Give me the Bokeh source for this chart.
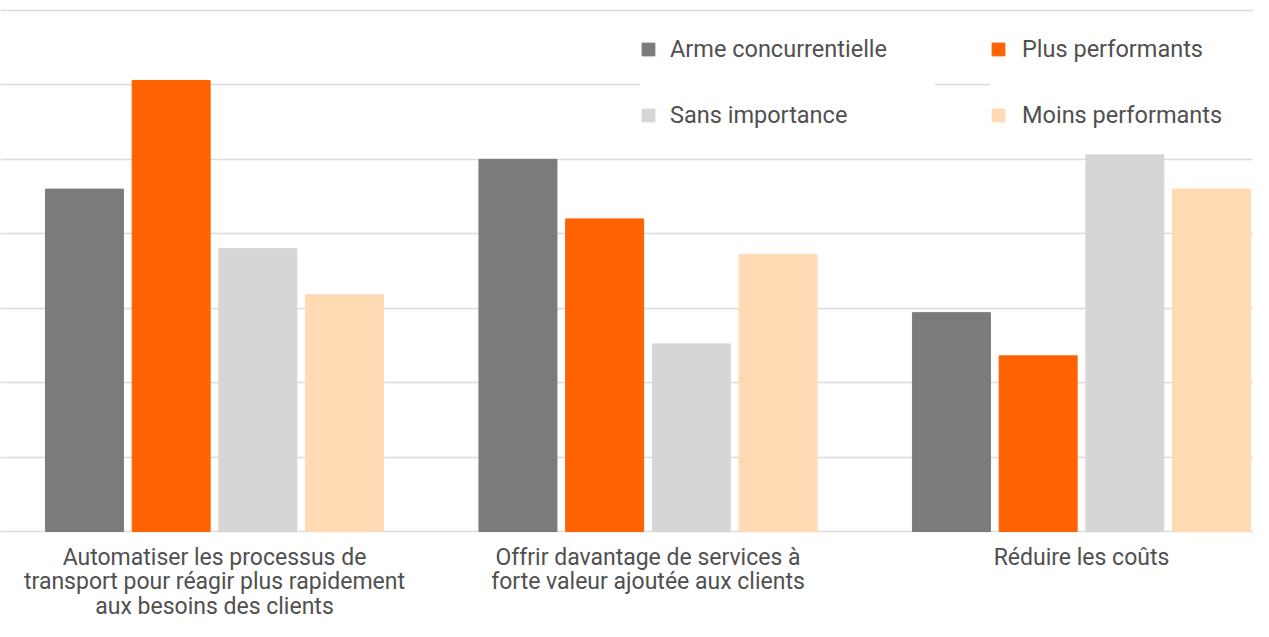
from bokeh.plotting import figure
from bokeh.models import ColumnDataSource, Legend, LegendItem, Range1d, FixedTicker, Grid
from bokeh.core.properties import value
from bokeh.embed import file_html
from bokeh.resources import INLINE

categories = [
    "Automatiser les processus de\ntransport pour réagir plus rapidement\naux besoins des clients",
    "Offrir davantage de services à\nforte valeur ajoutée aux clients",
    "Réduire les coûts",
]
series_names = ["Arme concurrentielle", "Plus performants", "Sans importance", "Moins performants"]
arme = [23.0, 25.0, 14.7]
plus = [30.3, 21.0, 11.8]
sans = [19.0, 12.6, 25.3]
moins = [15.9, 18.6, 23.0]
colors = ["#7b7b7b", "#ff6200", "#d6d6d6", "#ffdab3"]
grid_ticks = [0, 5, 10, 15, 20, 25, 30, 35]

W, H = 1253, 621
unit = 74.43 / 5.0  # px per percent
base_px = 531.0
y_top = base_px / unit
y_bottom = -(H - base_px) / unit
gx = 433.5
x_left = -214 / gx
x_right = (W - 214) / gx

p = figure(width=W, height=H, output_backend="svg", toolbar_location=None,
           x_range=Range1d(x_left, x_right), y_range=Range1d(y_bottom, y_top),
           min_border=0, min_border_left=0, min_border_right=0,
           min_border_top=0, min_border_bottom=0)
p.outline_line_color = None
p.background_fill_color = "white"
p.border_fill_color = "white"
for ax in p.axis:
    ax.visible = False
p.xgrid.visible = False
p.ygrid.visible = False
p.add_layout(Grid(dimension=1, ticker=FixedTicker(ticks=grid_ticks),
                  grid_line_color="#dcdcdc", grid_line_width=1.6))

xs = list(range(len(categories)))
offsets = [-0.3, -0.1, 0.1, 0.3]
bar_w = 78.0 / gx
renderers = []
for vals, off, col in zip([arme, plus, sans, moins], offsets, colors):
    src = ColumnDataSource(dict(x=[x + off for x in xs], top=vals))
    r = p.vbar(x="x", top="top", bottom=0, width=bar_w, source=src,
               fill_color=col, line_color=col, line_width=1)
    renderers.append(r)

lab_src = ColumnDataSource(dict(x=xs, y=[0] * len(xs), text=categories))
p.text(x="x", y="y", text="text", source=lab_src, text_align="center",
       text_baseline="top", y_offset=12, text_font=value("Roboto"),
       text_font_size="23px", text_color="#505050", text_line_height=0.92)

def make_legend(items, standoff, left, label_width):
    lg = Legend(items=items, location=(left, 491), orientation="vertical",
                background_fill_color="white", background_fill_alpha=1.0,
                border_line_color=None, padding=10, margin=0, spacing=36,
                glyph_width=16, glyph_height=16, label_height=30,
                label_width=label_width, label_standoff=standoff,
                label_text_font="Roboto", label_text_font_size="23.5px",
                label_text_color="#505050")
    return lg

lg1 = make_legend([LegendItem(label=series_names[0], renderers=[renderers[0]]),
                   LegendItem(label=series_names[2], renderers=[renderers[2]])],
                  14, 640, 265)
lg2 = make_legend([LegendItem(label=series_names[1], renderers=[renderers[1]]),
                   LegendItem(label=series_names[3], renderers=[renderers[3]])],
                  16, 990, 300)
p.add_layout(lg1, "center")
p.add_layout(lg2, "center")

open("out.html", "w").write(file_html(p, INLINE))
